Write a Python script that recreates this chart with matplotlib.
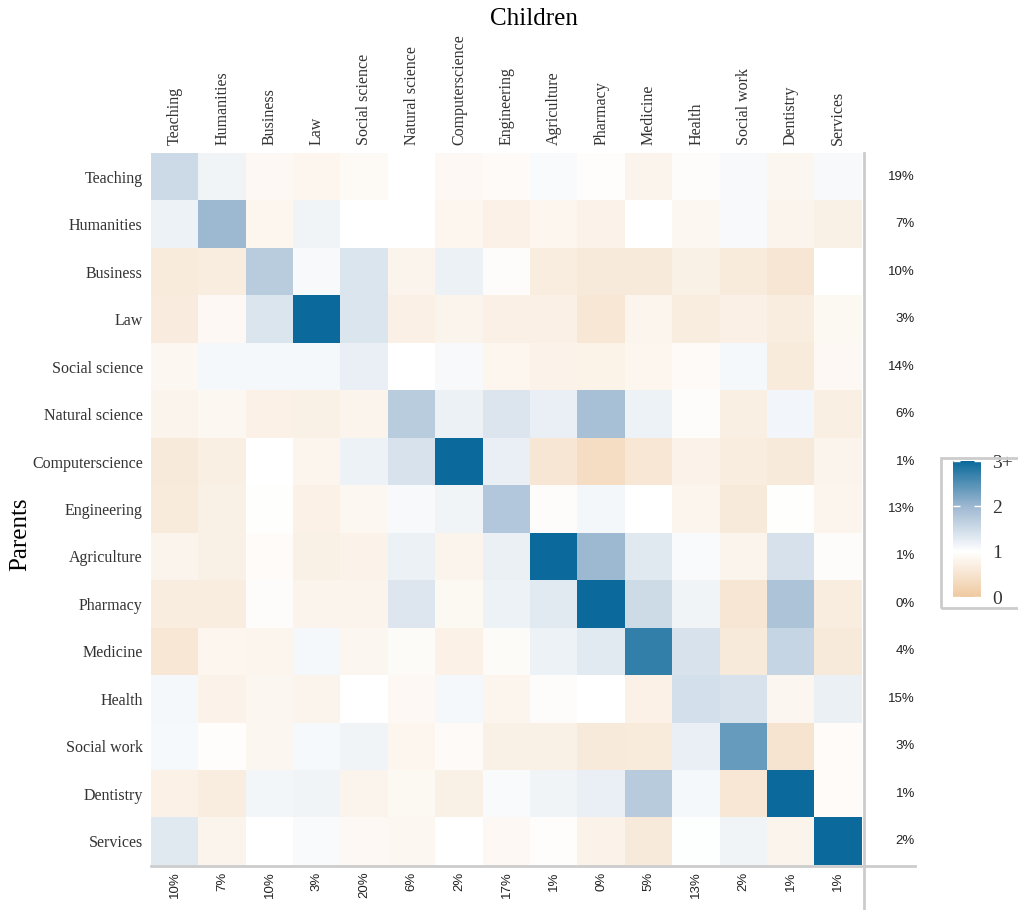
import matplotlib
matplotlib.use("Agg")
import matplotlib.pyplot as plt
import numpy as np
from matplotlib.colors import LinearSegmentedColormap
from matplotlib.lines import Line2D
from matplotlib.patches import Rectangle

fields = ["Teaching", "Humanities", "Business", "Law", "Social science",
          "Natural science", "Computerscience", "Engineering", "Agriculture",
          "Pharmacy", "Medicine", "Health", "Social work", "Dentistry", "Services"]

# ratio observed / expected, rows = parents, columns = children
ratio = [
    [1.52, 1.15, 0.88, 0.84, 0.90, 1.00, 0.89, 0.92, 1.06, 0.97, 0.80, 0.95, 1.07, 0.85, 1.07],
    [1.18, 2.00, 0.84, 1.15, 1.00, 1.00, 0.84, 0.76, 0.84, 0.78, 1.00, 0.86, 1.07, 0.80, 0.74],
    [0.64, 0.67, 1.72, 1.07, 1.37, 0.80, 1.19, 0.96, 0.67, 0.63, 0.63, 0.74, 0.64, 0.56, 1.00],
    [0.66, 0.89, 1.37, 3.30, 1.37, 0.73, 0.82, 0.73, 0.73, 0.57, 0.83, 0.67, 0.73, 0.67, 0.87],
    [0.86, 1.10, 1.10, 1.10, 1.23, 1.00, 1.07, 0.84, 0.79, 0.77, 0.84, 0.92, 1.09, 0.64, 0.88],
    [0.80, 0.86, 0.76, 0.74, 0.80, 1.72, 1.19, 1.35, 1.23, 1.88, 1.18, 0.95, 0.71, 1.13, 0.71],
    [0.63, 0.71, 1.00, 0.83, 1.18, 1.40, 3.30, 1.23, 0.54, 0.39, 0.57, 0.78, 0.67, 0.63, 0.81],
    [0.64, 0.74, 0.99, 0.76, 0.86, 1.07, 1.16, 1.77, 0.96, 1.11, 1.00, 0.83, 0.63, 0.99, 0.83],
    [0.82, 0.74, 0.94, 0.74, 0.78, 1.19, 0.80, 1.20, 3.30, 2.00, 1.31, 1.06, 0.82, 1.41, 0.96],
    [0.69, 0.67, 0.95, 0.82, 0.82, 1.34, 0.87, 1.18, 1.30, 3.30, 1.51, 1.16, 0.54, 1.83, 0.67],
    [0.57, 0.84, 0.83, 1.10, 0.85, 0.93, 0.76, 0.93, 1.18, 1.30, 2.73, 1.40, 0.63, 1.59, 0.61],
    [1.09, 0.78, 0.85, 0.82, 1.00, 0.88, 1.09, 0.83, 0.95, 1.00, 0.76, 1.45, 1.40, 0.85, 1.20],
    [1.08, 0.97, 0.85, 1.08, 1.16, 0.84, 0.92, 0.74, 0.74, 0.61, 0.64, 1.22, 2.36, 0.51, 0.94],
    [0.76, 0.68, 1.12, 1.15, 0.80, 0.87, 0.74, 1.06, 1.16, 1.23, 1.73, 1.10, 0.57, 3.30, 0.94],
    [1.31, 0.81, 1.00, 1.06, 0.89, 0.86, 1.00, 0.88, 0.97, 0.78, 0.62, 1.01, 1.16, 0.82, 3.30],
]
parent_share = ["19%", "7%", "10%", "3%", "14%", "6%", "1%", "13%", "1%", "0%", "4%", "15%", "3%", "1%", "2%"]
child_share = ["10%", "7%", "10%", "3%", "20%", "6%", "2%", "17%", "1%", "0%", "5%", "13%", "2%", "1%", "1%"]
cbar_ticks = [0, 1, 2, 3]
cbar_labels = ["0", "1", "2", "3+"]

serif = "Liberation Serif"
sans = "Liberation Sans"

cmap = LinearSegmentedColormap.from_list(
    "ratio", [(0, "#efc9a0"), (1 / 3, "#ffffff"), (2 / 3, "#9db8d1"), (1, "#0b6a9b")])

W, H = 1018, 910
fig = plt.figure(figsize=(W / 100, H / 100), dpi=100)
ax = fig.add_axes([151 / W, 1 - 865 / H, 711 / W, 712 / H])

data = np.array(ratio)
im = ax.imshow(data, cmap=cmap, vmin=0, vmax=3, aspect="auto", interpolation="nearest")

n = len(fields)
ax.set_xticks(range(n))
ax.set_xticklabels(fields, rotation=90, family=serif, fontsize=11.5, color="#333333")
ax.set_yticks(range(n))
ax.set_yticklabels(fields, family=serif, fontsize=11.5, color="#333333")
ax.xaxis.tick_top()
ax.tick_params(length=0, pad=6)
for s in ax.spines.values():
    s.set_visible(False)

# marginal shares
for i, p in enumerate(parent_share):
    ax.text(1.0745, i, p, transform=ax.get_yaxis_transform(), ha="right", va="center",
            family=sans, fontsize=9.5, color="#222222")
for j, c in enumerate(child_share):
    ax.text(j, -0.009, c, transform=ax.get_xaxis_transform(), ha="center", va="top",
            rotation=90, family=sans, fontsize=9.5, color="#222222")

# grey margin lines
fig.add_artist(Line2D([864 / W, 864 / W], [1 - 153 / H, 0], color="#cccccc", lw=2))
fig.add_artist(Line2D([151 / W, 915 / W], [1 - 866 / H, 1 - 866 / H], color="#cccccc", lw=2))

fig.text(534 / W, 1 - 19 / H, "Children", ha="center", va="center", family=serif, fontsize=18)
fig.text(20 / W, 1 - 534 / H, "Parents", ha="center", va="center", rotation=90,
         family=serif, fontsize=18)

# colour legend
fig.add_artist(Rectangle((941 / W, 1 - 608 / H), 130 / W, 150 / H, transform=fig.transFigure,
                         fill=False, edgecolor="#cccccc", lw=2))
cax = fig.add_axes([953 / W, 1 - 597 / H, 28 / W, 136 / H])
cb = fig.colorbar(im, cax=cax, ticks=cbar_ticks)
cb.outline.set_visible(False)
cb.ax.set_yticklabels(cbar_labels, family=serif, fontsize=14, color="#333333")
cb.ax.tick_params(direction="in", color="white", length=5, width=1, pad=8,
                  left=True, right=True)

fig.savefig("out.png", dpi=100)
